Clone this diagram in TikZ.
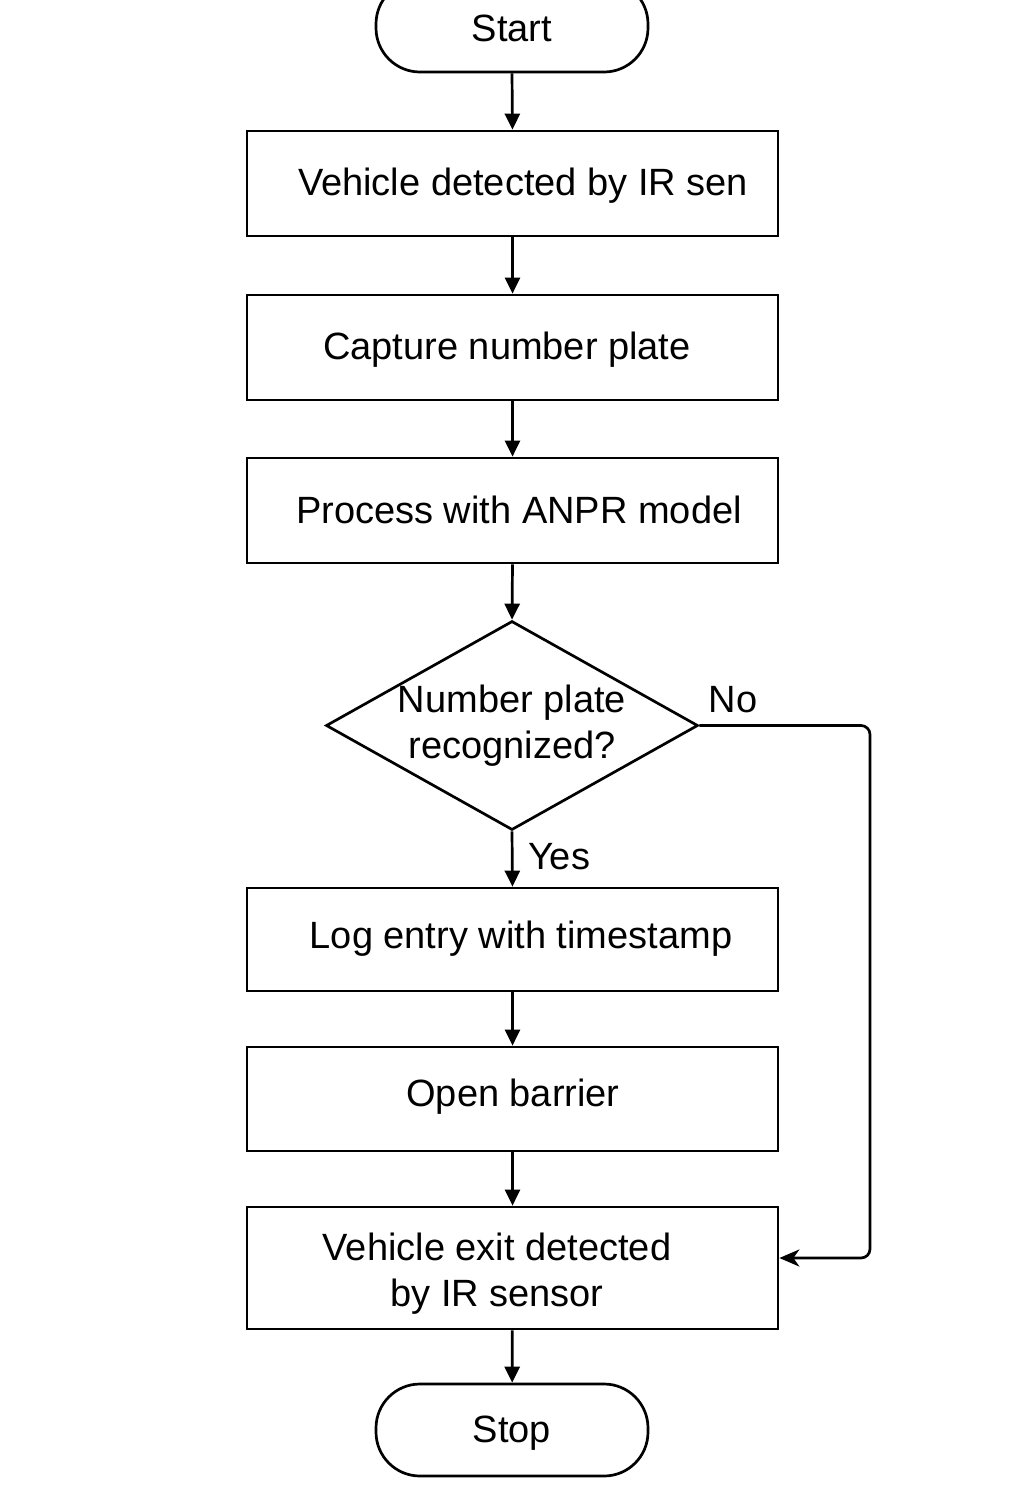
\documentclass[tikz,border=0pt]{standalone}
\usepackage{fontspec}
\setmainfont{Liberation Sans}
\usetikzlibrary{shapes.geometric,arrows.meta}
\begin{document}
\begin{tikzpicture}[x=1pt,y=-1pt,
  lw/.style={line width=2.7pt},
  boxnode/.style={draw,lw,minimum width=531pt,minimum height=105pt,inner sep=0pt},
  term/.style={draw,lw,rounded corners=44pt,minimum width=272pt,minimum height=92pt,inner sep=0pt},
  dec/.style={draw,lw,diamond,minimum width=372pt,minimum height=209pt,inner sep=0pt,aspect=1.78},
  txt/.style={font=\fontsize{38}{46}\selectfont,inner sep=0pt,align=center},
  arr/.style={lw,-{Triangle[length=16pt,width=15pt]}},
  flow/.style={lw,rounded corners=9pt,-{Stealth[length=20pt,width=17pt,inset=6pt]}}]
\useasboundingbox (0,0) rectangle (1028,1502);
\clip (0,0) rectangle (1028,1502);
\fill[white] (0,0) rectangle (1028,1502);

\node[term] (start) at (512,26) {};
\node[txt] (tstart) at (512,28) {Start};
\node[boxnode] (b1) at (512.5,183.5) {};
\node[txt] (t1) at (523,186) {Vehicle detected by IR sen};
\node[boxnode] (b2) at (512.5,347.5) {};
\node[txt] (t2) at (507,350) {Capture number plate};
\node[boxnode] (b3) at (512.5,510.5) {};
\node[txt] (t3) at (519,510) {Process with ANPR model};
\node[dec] (d) at (512,725.5) {};
\node[txt] (td) at (512,726) {Number plate\\recognized?};
\node[boxnode,minimum height=103pt] (b4) at (512.5,939.5) {};
\node[txt] (t4) at (521,939) {Log entry with timestamp};
\node[boxnode,minimum height=104pt] (b5) at (512.5,1099) {};
\node[txt] (t5) at (513,1097) {Open barrier};
\node[boxnode,minimum height=122pt] (b6) at (512.5,1268) {};
\node[txt] (t6) at (497,1274) {Vehicle exit detected\\by IR sensor};
\node[term] (stop) at (512,1430) {};
\node[txt] (tstop) at (512,1433) {Stop};

\node[txt] (yes) at (559,857) {Yes};
\node[txt] (no) at (733,700) {No};
\coordinate (c1) at (870,725.5);
\coordinate (c2) at (870,1258);

\draw[arr] (start.south) -- (b1.north);
\draw[arr] (b1) -- (b2);
\draw[arr] (b2) -- (b3);
\draw[arr] (b3.south) -- (d.north);
\draw[arr] (d.south) -- (b4.north);
\draw[arr] (b4) -- (b5);
\draw[arr] (b5) -- (b6);
\draw[arr] (b6) -- (stop);
\draw[flow] (d.east) -- (c1) -- (c2) -- (b6.east |- c2);
\end{tikzpicture}
\end{document}
